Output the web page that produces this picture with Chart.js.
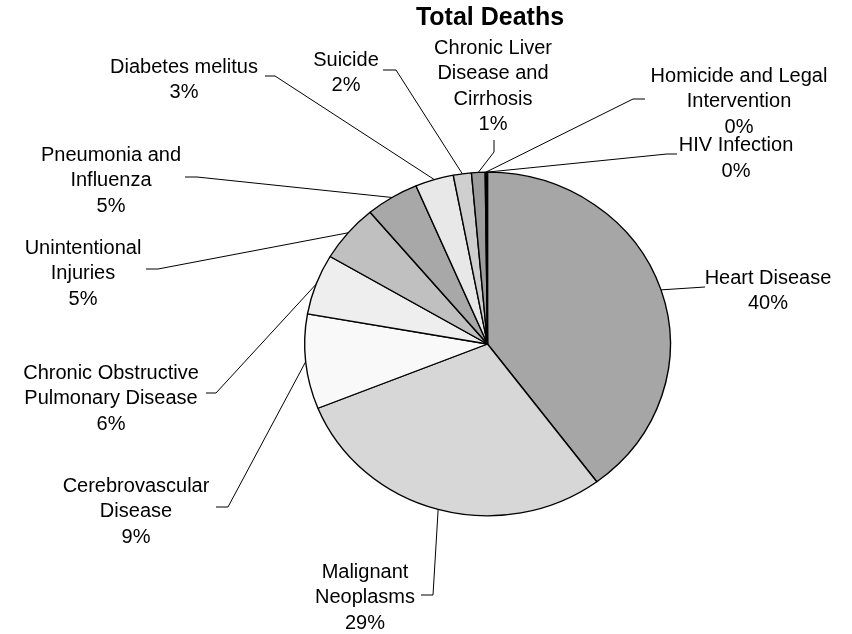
<!DOCTYPE html>
<html><head><meta charset="utf-8">
<script src="https://cdn.jsdelivr.net/npm/chart.js@4.4.0/dist/chart.umd.min.js"></script>
<style>html,body{margin:0;padding:0;background:#fff;}#wrap{width:852px;height:634px;}</style>
</head><body><div id="wrap"><canvas id="c" width="852" height="634"></canvas></div>
<script>
// ---- data ----
const chartTitle = 'Total Deaths';
const categories = [
  ['Heart Disease'],
  ['Malignant', 'Neoplasms'],
  ['Cerebrovascular', 'Disease'],
  ['Chronic Obstructive', 'Pulmonary Disease'],
  ['Unintentional', 'Injuries'],
  ['Pneumonia and', 'Influenza'],
  ['Diabetes melitus'],
  ['Suicide'],
  ['Chronic Liver', 'Disease and', 'Cirrhosis'],
  ['Homicide and Legal', 'Intervention'],
  ['HIV Infection']
];
const shares = [39.8, 29.1, 8.9, 5.7, 5.4, 4.7, 3.4, 1.6, 1.2, 0.12, 0.08];

// ---- style / layout ----
const sliceColors = ['#a6a6a6', '#d7d7d7', '#f9f9f9', '#eeeeee', '#c0c0c0', '#a8a8a8',
                     '#e8e8e8', '#cfcfcf', '#9c9c9c', '#7a7a7a', '#5a5a5a'];
const SX = 183 / 172; // horizontal stretch of the pie (elliptical in reference)
const FONT = '"Liberation Sans", Arial, sans-serif';
const LINE_H = 25.5;
const labelLayout = [
  {x: 768, y: 278, path: [[705, 287]]},
  {x: 365, y: 572, path: [[433, 595], [421, 595]]},
  {x: 136, y: 486, path: [[228, 507], [216, 507]]},
  {x: 111, y: 373, path: [[216, 393], [206, 393]]},
  {x: 83,  y: 248, path: [[158, 269], [146, 269]]},
  {x: 111, y: 155, path: [[197, 177], [185, 177]]},
  {x: 184, y: 67,  path: [[275, 76], [265, 76]]},
  {x: 346, y: 60,  path: [[396, 70], [383, 70]]},
  {x: 493, y: 48,  path: [[494, 152], [494, 140]]},
  {x: 739, y: 76,  path: [[633, 99], [645, 99]]},
  {x: 736, y: 145.5, path: [[667, 154], [677, 154]]}
];

const total = shares.reduce((a, b) => a + b, 0);
const pctText = shares.map(v => Math.round(v / total * 100) + '%');

const ellipsePlugin = {
  id: 'ellipse',
  beforeDatasetsDraw(chart) {
    const m = chart.getDatasetMeta(0).data[0];
    const ctx = chart.ctx;
    ctx.save();
    ctx.translate(m.x, 0); ctx.scale(SX, 1); ctx.translate(-m.x, 0);
  },
  afterDatasetsDraw(chart) { chart.ctx.restore(); }
};

const labelPlugin = {
  id: 'pieLabels',
  afterDraw(chart) {
    const ctx = chart.ctx;
    const arcs = chart.getDatasetMeta(0).data;
    ctx.save();
    ctx.fillStyle = '#000';
    ctx.textAlign = 'center';
    ctx.textBaseline = 'middle';
    ctx.font = 'bold 25px ' + FONT;
    ctx.fillText(chartTitle, 490, 18);
    ctx.font = '20px ' + FONT;
    arcs.forEach((arc, i) => {
      const p = arc.getProps(['x', 'y', 'startAngle', 'endAngle', 'outerRadius'], true);
      const mid = (p.startAngle + p.endAngle) / 2;
      const ax = p.x + Math.cos(mid) * p.outerRadius * SX;
      const ay = p.y + Math.sin(mid) * p.outerRadius;
      const L = labelLayout[i];
      ctx.beginPath();
      ctx.strokeStyle = '#000';
      ctx.lineWidth = 1;
      ctx.moveTo(ax, ay);
      L.path.forEach(pt => ctx.lineTo(pt[0], pt[1]));
      ctx.stroke();
      const lines = categories[i].concat([pctText[i]]);
      lines.forEach((t, k) => ctx.fillText(t, L.x, L.y + k * LINE_H));
    });
    ctx.restore();
  }
};

new Chart(document.getElementById('c'), {
  type: 'pie',
  data: {
    labels: categories,
    datasets: [{
      data: shares,
      backgroundColor: sliceColors,
      borderColor: '#000',
      borderWidth: 1.3,
      hoverOffset: 0,
      offset: 0
    }]
  },
  options: {
    responsive: false,
    animation: false,
    events: [],
    layout: {padding: {left: 315, right: 192, top: 171, bottom: 117}},
    plugins: {legend: {display: false}, tooltip: {enabled: false}, title: {display: false}}
  },
  plugins: [ellipsePlugin, labelPlugin]
});
</script>
</body></html>
